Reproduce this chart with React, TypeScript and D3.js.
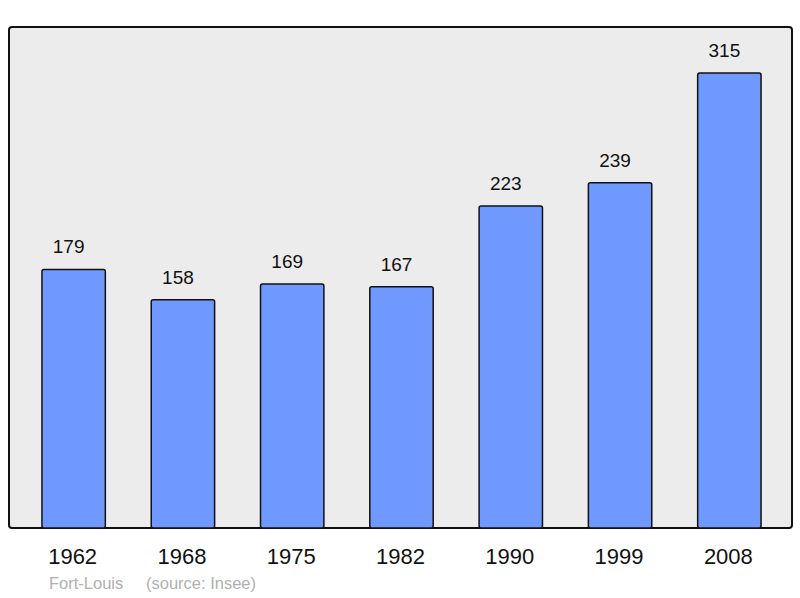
import * as d3 from "d3";

const years = ["1962", "1968", "1975", "1982", "1990", "1999", "2008"];
const population = [179, 158, 169, 167, 223, 239, 315];
const townName = "Fort-Louis";
const sourceText = "(source: Insee)";

const W = 800;
const H = 598;
const frame = { left: 9, top: 27, right: 792, bottom: 528 };

export default function App() {
  const x = d3.scaleBand<string>().domain(years).range([19, 784]).paddingInner(0.42).paddingOuter(0.21);
  const y = d3.scaleLinear().domain([0, 315]).range([frame.bottom, 73]);

  return (
    <svg
      width={W}
      height={H}
      style={{ position: "absolute", left: 0, top: 0, background: "#fff" }}
      fontFamily="'Liberation Sans', Arial, sans-serif"
    >
      <rect
        x={frame.left}
        y={frame.top}
        width={frame.right - frame.left}
        height={frame.bottom - frame.top}
        fill="#ececec"
        stroke="#111"
        strokeWidth={2}
        rx={3}
      />
      {years.map((yr, i) => {
        const v = population[i];
        const bx = x(yr) ?? 0;
        const bw = x.bandwidth();
        return (
          <g key={yr}>
            <rect
              x={bx}
              y={y(v)}
              width={bw}
              height={frame.bottom - y(v)}
              fill="#7099ff"
              stroke="#111"
              strokeWidth={1.5}
              rx={2}
            />
            <text x={bx + bw / 2 - 5} y={y(v) - 16} textAnchor="middle" fontSize={19} fill="#111">
              {v}
            </text>
            <text x={bx + bw / 2 - 1} y={564} textAnchor="middle" fontSize={22} fill="#111">
              {yr}
            </text>
          </g>
        );
      })}
      <text x={49} y={589} fontSize={16.5} fill="#b0b0b0">
        {townName}
      </text>
      <text x={146} y={589} fontSize={16.5} fill="#b0b0b0">
        {sourceText}
      </text>
    </svg>
  );
}
